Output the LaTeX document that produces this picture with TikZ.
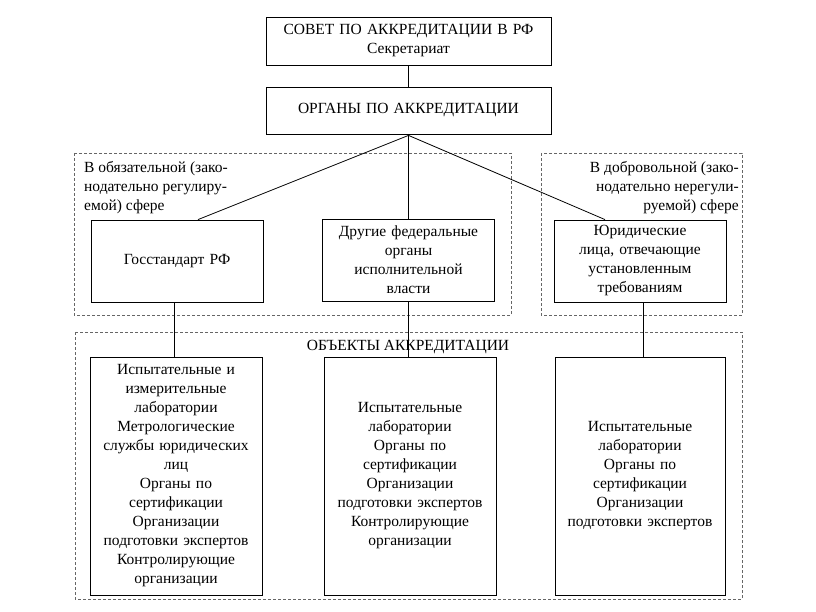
\documentclass[tikz,border=0pt]{standalone}
\usepackage{fontspec}
\setmainfont{Liberation Serif}
\usetikzlibrary{calc}
\begin{document}
\begin{tikzpicture}[x=1pt,y=-1pt,
  every node/.style={font=\fontsize{15.5}{19}\selectfont},
  box/.style={draw,line width=0.8pt,inner sep=0pt,align=center,text width=#1-4pt},
  region/.style={draw=gray!80!black,line width=0.8pt,dash pattern=on 3pt off 2pt},
  conn/.style={line width=0.8pt}]
\useasboundingbox (0,0) rectangle (816,612);
% dashed regions
\draw[region] (74,153) rectangle (511,315);
\draw[region] (541,153) rectangle (742,315);
\draw[region] (75,332) rectangle (742,599);
% boxes
\node[box=285pt,minimum width=285pt,minimum height=48pt] (sov) at (408.5,41) {СОВЕТ ПО АККРЕДИТАЦИИ В РФ\\Секретариат};
\node[box=285pt,minimum width=285pt,minimum height=47pt] (org) at (408.5,110.5) {ОРГАНЫ ПО АККРЕДИТАЦИИ};
\node[box=172pt,minimum width=172pt,minimum height=82pt] (gos) at (177,261) {Госстандарт РФ};
\node[box=172pt,minimum width=172pt,minimum height=82pt] (fed) at (408.5,260) {Другие федеральные\\органы\\исполнительной\\власти};
\node[box=172pt,minimum width=172pt,minimum height=82pt] (jur) at (640,261) {Юридические\\лица, отвечающие\\установленным\\требованиям};
\node[box=172pt,minimum width=172pt,minimum height=238pt] (b1) at (176,476) {Испытательные и\\измерительные\\лаборатории\\Метрологические\\службы юридических\\лиц\\Органы по\\сертификации\\Организации\\подготовки экспертов\\Контролирующие\\организации};
\node[box=172pt,minimum width=172pt,minimum height=238pt] (b2) at (410,476) {Испытательные\\лаборатории\\Органы по\\сертификации\\Организации\\подготовки экспертов\\Контролирующие\\организации};
\node[box=170pt,minimum width=170pt,minimum height=238pt] (b3) at (640,476) {Испытательные\\лаборатории\\Органы по\\сертификации\\Организации\\подготовки экспертов};
% region labels
\node[anchor=north west,align=left,inner sep=0pt] (lreg) at (84,161) {В обязательной (зако-\\нодательно регулиру-\\емой) сфере};
\node[anchor=north east,align=right,inner sep=0pt] (rreg) at (739,161) {В добровольной (зако-\\нодательно нерегули-\\руемой) сфере};
\node[inner sep=0pt] (obj) at (408,347) {ОБЪЕКТЫ АККРЕДИТАЦИИ};
% connectors
\draw[conn] ([yshift=-1pt]sov.south) -- ([yshift=-1pt]org.north);
\draw[conn] ([yshift=-1pt]org.south) -- ([xshift=21pt]gos.north);
\draw[conn] ([yshift=-1pt]org.south) -- (fed.north);
\draw[conn] ([yshift=-1pt]org.south) -- ([xshift=-35pt]jur.north);
\draw[conn] ([xshift=-3pt]gos.south) -- ([xshift=-3pt]gos.south |- b1.north);
\draw[conn] (fed.south) -- (fed.south |- b2.north);
\draw[conn] ([xshift=3pt]jur.south) -- ([xshift=3pt]jur.south |- b3.north);
\end{tikzpicture}
\end{document}
